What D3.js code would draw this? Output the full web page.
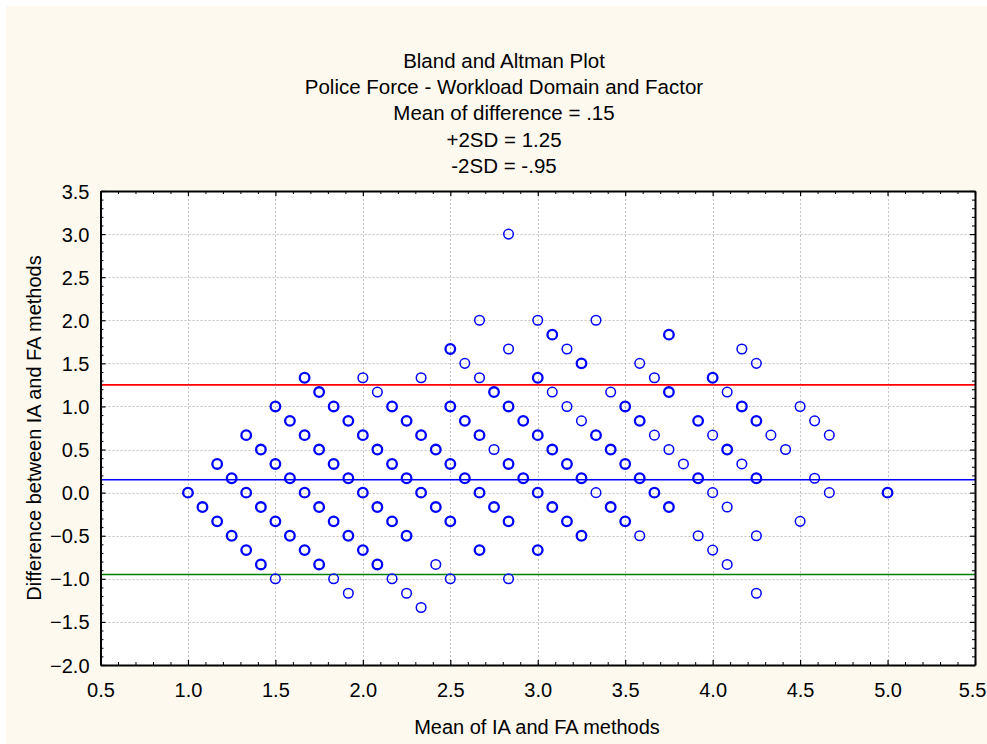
<!DOCTYPE html>
<html>
<head>
<meta charset="utf-8">
<script src="https://cdn.jsdelivr.net/npm/d3@7"></script>
<style>
  html, body { margin: 0; padding: 0; background: #ffffff; }
  svg { display: block; }
  text { font-family: "Liberation Sans", Arial, sans-serif; fill: #000; }
</style>
</head>
<body>
<div id="chart"></div>
<script>
// Title block
const titleLines = [
  "Bland and Altman Plot",
  "Police Force - Workload Domain and Factor",
  "Mean of difference = .15",
  "+2SD = 1.25",
  "-2SD = -.95"
];
const xLabel = "Mean of IA and FA methods";
const yLabel = "Difference between IA and FA methods";

// Reference lines: mean difference and limits of agreement
const meanDiff = 0.15;
const upperLimit = 1.25;
const lowerLimit = -0.95;

// Axis ticks
const xTicks = [0.5, 1.0, 1.5, 2.0, 2.5, 3.0, 3.5, 4.0, 4.5, 5.0, 5.5];
const yTicks = [-2.0, -1.5, -1.0, -0.5, 0.0, 0.5, 1.0, 1.5, 2.0, 2.5, 3.0, 3.5];

// Observations: mean of the two methods, their difference, and how many
// respondents share that exact (mean, difference) pair
const meanVals = [
  1.000,
  1.083,
  1.167, 1.167,
  1.250, 1.250,
  1.333, 1.333, 1.333,
  1.417, 1.417, 1.417,
  1.500, 1.500, 1.500, 1.500,
  1.583, 1.583, 1.583,
  1.667, 1.667, 1.667, 1.667,
  1.750, 1.750, 1.750, 1.750,
  1.833, 1.833, 1.833, 1.833,
  1.917, 1.917, 1.917, 1.917,
  2.000, 2.000, 2.000, 2.000,
  2.083, 2.083, 2.083, 2.083,
  2.167, 2.167, 2.167, 2.167,
  2.250, 2.250, 2.250, 2.250,
  2.333, 2.333, 2.333, 2.333,
  2.417, 2.417, 2.417,
  2.500, 2.500, 2.500, 2.500, 2.500,
  2.583, 2.583, 2.583,
  2.667, 2.667, 2.667, 2.667, 2.667,
  2.750, 2.750, 2.750,
  2.833, 2.833, 2.833, 2.833, 2.833, 2.833,
  2.917, 2.917,
  3.000, 3.000, 3.000, 3.000, 3.000,
  3.083, 3.083, 3.083, 3.083,
  3.167, 3.167, 3.167, 3.167,
  3.250, 3.250, 3.250, 3.250,
  3.333, 3.333, 3.333,
  3.417, 3.417, 3.417,
  3.500, 3.500, 3.500,
  3.583, 3.583, 3.583, 3.583,
  3.667, 3.667, 3.667,
  3.750, 3.750, 3.750, 3.750,
  3.833,
  3.917, 3.917, 3.917,
  4.000, 4.000, 4.000, 4.000,
  4.083, 4.083, 4.083, 4.083,
  4.167, 4.167, 4.167,
  4.250, 4.250, 4.250, 4.250, 4.250,
  4.333,
  4.417,
  4.500, 4.500,
  4.583, 4.583,
  4.667, 4.667,
  5.000
];
const diffVals = [
  0.000,
  -0.167,
  0.333, -0.333,
  0.167, -0.500,
  0.667, 0.000, -0.667,
  0.500, -0.167, -0.833,
  1.000, 0.333, -0.333, -1.000,
  0.833, 0.167, -0.500,
  1.333, 0.667, 0.000, -0.667,
  1.167, 0.500, -0.167, -0.833,
  1.000, 0.333, -0.333, -1.000,
  0.833, 0.167, -0.500, -1.167,
  1.333, 0.667, 0.000, -0.667,
  1.167, 0.500, -0.167, -0.833,
  1.000, 0.333, -0.333, -1.000,
  0.833, 0.167, -0.500, -1.167,
  1.333, 0.667, 0.000, -1.333,
  0.500, -0.167, -0.833,
  1.667, 1.000, 0.333, -0.333, -1.000,
  1.500, 0.833, 0.167,
  2.000, 1.333, 0.667, 0.000, -0.667,
  1.167, 0.500, -0.167,
  3.000, 1.667, 1.000, 0.333, -0.333, -1.000,
  0.833, 0.167,
  2.000, 1.333, 0.667, 0.000, -0.667,
  1.833, 1.167, 0.500, -0.167,
  1.667, 1.000, 0.333, -0.333,
  1.500, 0.833, 0.167, -0.500,
  2.000, 0.667, 0.000,
  1.167, 0.500, -0.167,
  1.000, 0.333, -0.333,
  1.500, 0.833, 0.167, -0.500,
  1.333, 0.667, 0.000,
  1.833, 1.167, 0.500, -0.167,
  0.333,
  0.833, 0.167, -0.500,
  1.333, 0.667, 0.000, -0.667,
  1.167, 0.500, -0.167, -0.833,
  1.667, 1.000, 0.333,
  1.500, 0.833, 0.167, -0.500, -1.167,
  0.667,
  0.500,
  1.000, -0.333,
  0.833, 0.167,
  0.667, 0.000,
  0.000
];
const countVals = [
  2,
  2,
  2, 2,
  2, 2,
  2, 2, 2,
  2, 2, 2,
  2, 2, 2, 1,
  2, 2, 2,
  2, 2, 2, 2,
  2, 2, 2, 2,
  2, 2, 2, 1,
  2, 2, 2, 1,
  1, 2, 2, 2,
  1, 2, 2, 2,
  2, 2, 2, 1,
  2, 2, 2, 1,
  1, 2, 2, 1,
  2, 2, 1,
  2, 2, 2, 2, 1,
  1, 2, 2,
  1, 1, 2, 2, 2,
  2, 1, 2,
  1, 1, 2, 2, 2, 1,
  2, 2,
  1, 2, 2, 2, 2,
  2, 1, 2, 2,
  1, 1, 2, 2,
  2, 1, 2, 2,
  1, 2, 1,
  1, 2, 2,
  2, 2, 2,
  1, 2, 2, 1,
  1, 1, 2,
  2, 2, 1, 2,
  1,
  2, 2, 1,
  2, 1, 1, 1,
  1, 2, 1, 1,
  1, 2, 1,
  1, 2, 2, 1, 1,
  1,
  1,
  1, 1,
  1, 1,
  1, 1,
  2
];

const W = 987, H = 744;
const plot = { left: 100.5, right: 975, top: 191, bottom: 665 };

const svg = d3.select("#chart").append("svg")
  .attr("width", W).attr("height", H);

// Page and plot backgrounds
svg.append("rect").attr("x", 6).attr("y", 6).attr("width", W - 6).attr("height", H - 6)
  .attr("fill", "#fef9ef");
svg.append("rect").attr("x", plot.left).attr("y", plot.top)
  .attr("width", plot.right - plot.left).attr("height", plot.bottom - plot.top)
  .attr("fill", "#ffffff");

const x = d3.scaleLinear().domain([0.5, 5.5]).range([plot.left, plot.right]);
const y = d3.scaleLinear().domain([-2.0, 3.5]).range([plot.bottom, plot.top]);

// Dotted grid
const grid = svg.append("g").attr("stroke", "#c2c2c2").attr("stroke-width", 1)
  .attr("stroke-dasharray", "2,2").attr("fill", "none");
xTicks.slice(1, -1).forEach(v => {
  grid.append("line").attr("x1", Math.round(x(v)) + 0.5).attr("x2", Math.round(x(v)) + 0.5)
    .attr("y1", plot.top).attr("y2", plot.bottom);
});
yTicks.slice(1, -1).forEach(v => {
  grid.append("line").attr("y1", Math.round(y(v)) + 0.5).attr("y2", Math.round(y(v)) + 0.5)
    .attr("x1", plot.left).attr("x2", plot.right);
});

// Limits of agreement and mean difference
const refLines = [
  { v: upperLimit, c: "#ff0000" },
  { v: meanDiff, c: "#0000ff" },
  { v: lowerLimit, c: "#008000" }
];
svg.append("g").selectAll("line").data(refLines).join("line")
  .attr("x1", plot.left).attr("x2", plot.right)
  .attr("y1", d => y(d.v)).attr("y2", d => y(d.v))
  .attr("stroke", d => d.c).attr("stroke-width", 1.6);

// Points (repeated pairs drawn with a heavier ring)
const points = meanVals.map((m, k) => ({ m, d: diffVals[k], n: countVals[k] }));
svg.append("g").selectAll("circle").data(points).join("circle")
  .attr("cx", d => x(d.m)).attr("cy", d => y(d.d))
  .attr("r", 4.8)
  .attr("fill", "none")
  .attr("stroke", "#0000ff")
  .attr("stroke-width", d => d.n > 1 ? 2.3 : 1.5);

// Axes with inward ticks on all four sides
const minorX = d3.range(0.6, 5.5, 0.1).filter(v => Math.abs(v * 2 - Math.round(v * 2)) > 1e-6);
const minorY = d3.range(-1.9, 3.5, 0.1).filter(v => Math.abs(v * 2 - Math.round(v * 2)) > 1e-6);

function drawAxis(axisFn, scale, ticks, minor, transform, showLabels) {
  const gMinor = svg.append("g").attr("transform", transform)
    .call(axisFn(scale).tickValues(minor).tickSize(-3).tickFormat(""));
  gMinor.select(".domain").remove();
  gMinor.selectAll("line").attr("stroke", "#000").attr("stroke-width", 1);
  const g = svg.append("g").attr("transform", transform)
    .call(axisFn(scale).tickValues(ticks).tickSize(-5).tickSizeOuter(0)
      .tickPadding(showLabels ? 16 : 0)
      .tickFormat(showLabels ? d3.format(".1f") : ""));
  g.select(".domain").attr("stroke", "#000").attr("stroke-width", 2);
  g.selectAll(".tick line").attr("stroke", "#000").attr("stroke-width", 1.2);
  g.selectAll("text").style("font-size", "20px")
    .style("font-family", "'Liberation Sans', Arial, sans-serif").attr("fill", "#000");
  return g;
}

const gx = drawAxis(d3.axisBottom, x, xTicks, minorX, `translate(0,${plot.bottom})`, true);
gx.selectAll("text").attr("dy", "0.71em").attr("y", 18);
// keep the last label inside the page edge
gx.selectAll(".tick").filter(d => d === 5.5).select("text")
  .attr("text-anchor", "end").attr("x", W - 1 - x(5.5));
drawAxis(d3.axisTop, x, xTicks, minorX, `translate(0,${plot.top})`, false);
const gy = drawAxis(d3.axisLeft, y, yTicks, minorY, `translate(${plot.left},0)`, true);
gy.selectAll("text").attr("x", -11).attr("dy", "0.35em");
drawAxis(d3.axisRight, y, yTicks, minorY, `translate(${plot.right},0)`, false);

// Titles
svg.append("g").selectAll("text").data(titleLines).join("text")
  .attr("x", 504).attr("y", (d, k) => 68 + k * 26.2)
  .attr("text-anchor", "middle").style("font-size", "20.5px").text(d => d);

svg.append("text").attr("x", 537).attr("y", 734)
  .attr("text-anchor", "middle").style("font-size", "20px").text(xLabel);

svg.append("text")
  .attr("transform", `translate(41,${(plot.top + plot.bottom) / 2}) rotate(-90)`)
  .attr("text-anchor", "middle").style("font-size", "20px").text(yLabel);
</script>
</body>
</html>
